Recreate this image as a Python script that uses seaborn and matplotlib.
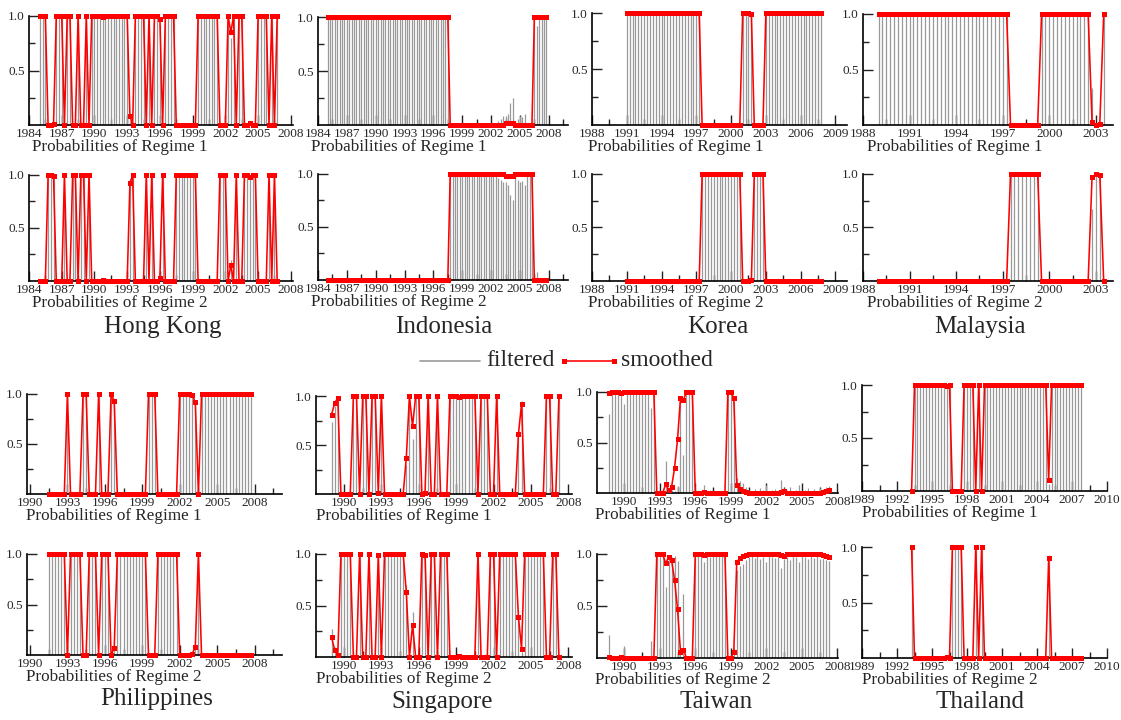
import numpy as np
import pandas as pd
import matplotlib
matplotlib.use("Agg")
import matplotlib.pyplot as plt
import seaborn as sns
from matplotlib.lines import Line2D
from matplotlib.ticker import FixedLocator

sns.set_theme(style="white")
plt.rcParams['font.family'] = ['Liberation Serif', 'DejaVu Serif']

# ---------------- data: probabilities of regime 1 (quarterly) ----------------
# regime 2 probability = 1 - regime 1 probability
hk_start = 1985.0
hk_smooth = [1, 1, 1, 0, 0, 0.01, 1, 1, 1, 0, 1, 1, 0, 0, 1, 0, 0, 1, 0,
             1, 1, 1, 1, 0.99, 1, 1, 1, 1, 1, 1, 1, 1, 1,
             0.08, 0, 1, 1, 1, 1, 0, 1, 0, 1, 1, 0.97, 0, 1, 1, 1, 1,
             0, 0, 0, 0, 0, 0, 0, 0, 1, 1, 1, 1, 1, 1, 1, 1,
             0, 0, 0, 1, 0.85, 1, 0, 1, 1, 0, 0, 0.02, 0, 0,
             1, 1, 1, 1, 0, 1, 0, 1]
hk_filt = [1, 1, 1, 0, 0, 0.03, 1, 1, 1, 0, 1, 1, 0, 0, 1, 0, 0, 1, 0,
           1, 1, 1, 1, 0.98, 1, 1, 1, 1, 1, 1, 1, 1, 1,
           0.04, 0, 1, 1, 1, 1, 0, 1, 0, 1, 1, 0.92, 0, 1, 1, 1, 1,
           0, 0, 0, 0, 0, 0, 0, 0, 1, 1, 1, 1, 1, 1, 1, 1,
           0, 0, 0, 1, 0.8, 1, 0, 1, 1, 0, 0, 0.03, 0, 0,
           1, 1, 1, 1, 0, 1, 0, 1]

ido_start = 1985.0
ido_smooth = [1, 1, 1, 1, 1, 1, 1, 1, 1, 1, 1, 1, 1, 1, 1, 1, 1, 1, 1, 1,
              1, 1, 1, 1, 1, 1, 1, 1, 1, 1, 1, 1, 1, 1, 1, 1, 1, 1, 1, 1,
              1, 1, 1, 1, 1, 1, 1, 1, 1, 1, 1,
              0, 0, 0, 0, 0, 0, 0, 0, 0, 0, 0, 0, 0, 0, 0, 0, 0, 0, 0, 0,
              0, 0, 0, 0.015, 0.02, 0.02, 0.015, 0, 0, 0, 0, 0, 0, 0, 0,
              1, 1, 1, 1, 1, 1]
ido_filt = [1, 1, 1, 1, 1, 1, 1, 1, 1, 1, 1, 1, 1, 1, 1, 1, 1, 1, 1, 1,
            1, 1, 1, 1, 1, 1, 1, 1, 1, 1, 1, 1, 1, 1, 1, 1, 1, 1, 1, 1,
            1, 1, 1, 1, 1, 1, 1, 1, 1, 1, 1,
            0, 0, 0, 0, 0, 0, 0, 0, 0, 0, 0, 0, 0, 0, 0, 0, 0, 0, 0, 0,
            0.04, 0.06, 0.08, 0.08, 0.1, 0.2, 0.25, 0.03, 0.06, 0.08, 0.07, 0.1, 0.02, 0, 0,
            1, 0.92, 1, 1, 1, 1]

kor_start = 1991.0
kor_smooth = [1, 1, 1, 1, 1, 1, 1, 1, 1, 1, 1, 1, 1, 1, 1, 1, 1, 1, 1, 1, 1, 1, 1, 1, 1, 1,
              0, 0, 0, 0, 0, 0, 0, 0, 0, 0, 0, 0, 0, 0,
              1, 1, 1, 0.99, 0, 0, 0, 0,
              1, 1, 1, 1, 1, 1, 1, 1, 1, 1, 1, 1, 1, 1, 1, 1, 1, 1, 1, 1]
kor_filt = [1, 1, 1, 1, 1, 1, 1, 1, 1, 1, 1, 1, 1, 1, 1, 1, 1, 1, 1, 1, 1, 1, 1, 1, 1, 1,
            0, 0, 0, 0, 0, 0, 0, 0, 0, 0, 0, 0, 0, 0,
            1, 1, 1, 0.98, 0, 0, 0, 0,
            1, 1, 1, 1, 1, 1, 1, 1, 1, 1, 1, 1, 1, 1, 1, 1, 1, 1, 1, 1]

mal_start = 1989.0
mal_smooth = [1, 1, 1, 1, 1, 1, 1, 1, 1, 1, 1, 1, 1, 1, 1, 1, 1,
              1, 1, 1, 1, 1, 1, 1, 1, 1, 1, 1, 1, 1, 1, 1, 1, 1,
              0, 0, 0, 0, 0, 0, 0, 0,
              1, 1, 1, 1, 1, 1, 1, 1, 1, 1, 1, 1, 1,
              0.03, 0, 0.01, 1]
mal_filt = [1, 1, 1, 1, 1, 1, 1, 1, 1, 1, 1, 1, 1, 1, 1, 1, 1,
            1, 1, 1, 1, 1, 1, 1, 1, 1, 1, 1, 1, 1, 1, 1, 1, 1,
            0, 0, 0, 0, 0, 0, 0, 0,
            1, 1, 1, 1, 1, 1, 1, 1, 1, 1, 1, 1, 1,
            0.33, 0, 0.02, 1]

phi_start = 1991.5
phi_smooth = [0, 0, 0, 0, 0, 0, 1, 0, 0, 0, 0, 1, 1, 0, 0, 0, 1, 0, 0, 0, 1, 0.93,
              0, 0, 0, 0, 0, 0, 0, 0, 0, 0, 1, 1, 1, 0, 0, 0, 0, 0, 0, 0,
              1, 1, 1, 1, 0.99, 0.92, 0,
              1, 1, 1, 1, 1, 1, 1, 1, 1, 1, 1, 1, 1, 1, 1, 1, 1]
phi_filt = [0, 0, 0, 0, 0, 0, 1, 0, 0, 0, 0, 1, 1, 0, 0, 0, 1, 0, 0, 0, 1, 0.95,
            0, 0, 0, 0, 0, 0, 0, 0, 0, 0, 1, 1, 1, 0, 0, 0, 0, 0, 0, 0,
            1, 1, 1, 1, 0.98, 0.9, 0,
            1, 1, 1, 1, 1, 1, 1, 1, 1, 1, 1, 1, 1, 1, 1, 1, 1]

sgp_start = 1989.0
sgp_smooth = [0.81, 0.93, 0.98, 0, 0, 0, 0, 1, 1, 0, 1, 1, 0, 1, 1, 0.01, 1,
              0, 0, 0, 0, 0, 0, 0, 0.37, 1, 0.69, 1, 1, 0, 0.01, 1, 0, 0, 1, 0, 0, 0,
              1, 1, 1, 0.99, 1, 1, 1, 1, 1, 0, 1, 1, 1, 0, 0, 1,
              0, 0, 0, 0, 0, 0, 0.61, 0.92, 0, 0, 0, 0, 0, 0, 0, 1, 1, 0, 0, 1]
sgp_filt = [0.73, 0.9, 0.97, 0, 0, 0, 0, 1, 1, 0, 1, 1, 0, 1, 1, 0.02, 1,
            0, 0, 0, 0, 0, 0, 0, 0.3, 1, 0.56, 1, 1, 0, 0.02, 1, 0, 0, 1, 0, 0, 0,
            1, 1, 1, 0.98, 1, 1, 1, 1, 1, 0, 1, 1, 1, 0, 0, 1,
            0, 0, 0, 0, 0, 0, 0.6, 0.95, 0, 0, 0, 0, 0, 0, 0, 1, 1, 0, 0, 1]

twn_start = 1988.75
twn_smooth = [0.99, 1, 1, 1, 0.99, 1, 1, 1, 1, 1, 1, 1, 1, 1, 1, 1,
              0, 0, 0, 0.09, 0.03, 0.06, 0.25, 0.53, 0.94, 0.92, 1, 1, 1,
              0, 0, 0, 0.01, 0, 0, 0, 0, 0, 0, 0,
              1, 1, 0.94, 0.08, 0.04, 0.02, 0.01,
              0, 0, 0, 0, 0, 0, 0, 0, 0, 0, 0, 0.01, 0.015, 0, 0, 0, 0, 0, 0, 0, 0, 0, 0, 0,
              0, 0.01, 0.02, 0.03]
twn_filt = [0.78, 1, 1, 1, 1, 0.88, 1, 1, 1, 1, 1, 1, 1, 1, 0.84, 1,
            0, 0, 0.02, 0.32, 0.02, 0.03, 0.02, 0.07, 0.95, 0.38, 1, 1, 1,
            0, 0, 0.02, 0.08, 0, 0.03, 0, 0, 0.02, 0, 0,
            1, 1, 0.9, 0.15, 0.12, 0.1, 0.06,
            0.03, 0.02, 0.04, 0.02, 0.05, 0.03, 0.08, 0.02, 0.03, 0.04, 0.02, 0.13, 0.05, 0.03,
            0.06, 0.02, 0.03, 0.08, 0.02, 0.03, 0.05, 0.02, 0.04, 0.02, 0.05, 0.04, 0.06, 0.07]

tha_start = 1993.25
tha_smooth = [0, 1, 1, 1, 1, 1, 1, 1, 1, 1, 1, 1, 0.99, 1, 0, 0, 0, 0, 1, 1, 1, 1, 0, 1, 0,
              1, 1, 1, 1, 1, 1, 1, 1, 1, 1, 1, 1, 1, 1, 1, 1, 1, 1, 1, 1, 1, 1,
              0.1, 1, 1, 1, 1, 1, 1, 1, 1, 1, 1, 1]
tha_filt = [0, 1, 1, 1, 1, 1, 1, 1, 1, 1, 1, 1, 0.99, 1, 0, 0, 0, 0, 1, 1, 1, 1, 0, 1, 0,
            1, 1, 1, 1, 1, 1, 1, 1, 1, 1, 1, 1, 1, 1, 1, 1, 1, 1, 1, 1, 1, 1,
            0.07, 1, 1, 1, 1, 1, 1, 1, 1, 1, 1, 1]

countries = ["Hong Kong", "Indonesia", "Korea", "Malaysia",
             "Philippines", "Singapore", "Taiwan", "Thailand"]
series = {
    "Hong Kong": (hk_start, hk_smooth, hk_filt),
    "Indonesia": (ido_start, ido_smooth, ido_filt),
    "Korea": (kor_start, kor_smooth, kor_filt),
    "Malaysia": (mal_start, mal_smooth, mal_filt),
    "Philippines": (phi_start, phi_smooth, phi_filt),
    "Singapore": (sgp_start, sgp_smooth, sgp_filt),
    "Taiwan": (twn_start, twn_smooth, twn_filt),
    "Thailand": (tha_start, tha_smooth, tha_filt),
}
xticks = {
    "Hong Kong": [1984, 1987, 1990, 1993, 1996, 1999, 2002, 2005, 2008],
    "Indonesia": [1984, 1987, 1990, 1993, 1996, 1999, 2002, 2005, 2008],
    "Korea": [1988, 1991, 1994, 1997, 2000, 2003, 2006, 2009],
    "Malaysia": [1988, 1991, 1994, 1997, 2000, 2003],
    "Philippines": [1990, 1993, 1996, 1999, 2002, 2005, 2008],
    "Singapore": [1990, 1993, 1996, 1999, 2002, 2005, 2008],
    "Taiwan": [1990, 1993, 1996, 1999, 2002, 2005, 2008],
    "Thailand": [1989, 1992, 1995, 1998, 2001, 2004, 2007, 2010],
}

# ---------------- layout (pixels) ----------------
W, H = 1121, 720
geo = {
    "Hong Kong":   dict(x=(29, 293), r1=(16, 125), r2=(175, 281), xlim=(1984, 2008.2), name=(163, 327), lab=32),
    "Indonesia":   dict(x=(318, 568), r1=(17, 125), r2=(174, 280), xlim=(1984, 2010), name=(444, 327), lab=311),
    "Korea":       dict(x=(592, 847), r1=(13, 125), r2=(174, 281), xlim=(1988, 2010), name=(718, 327), lab=588),
    "Malaysia":    dict(x=(863, 1113), r1=(14, 125), r2=(174, 281), xlim=(1988, 2004.1), name=(980, 327), lab=867),
    "Philippines": dict(x=(27, 282), r1=(394, 494), r2=(554, 655), xlim=(1989.76, 2010.2), name=(157, 699), lab=26),
    "Singapore":   dict(x=(316, 572), r1=(396, 494), r2=(554, 657), xlim=(1987.75, 2008.3), name=(442, 702), lab=316),
    "Taiwan":      dict(x=(597, 838), r1=(392, 493), r2=(554, 658), xlim=(1987.7, 2008.05), name=(716, 702), lab=595),
    "Thailand":    dict(x=(862, 1107), r1=(385, 491), r2=(547, 658), xlim=(1989, 2010), name=(980, 702), lab=862),
}

RED = "#ff0000"
GRAY = "#999999"

fig = plt.figure(figsize=(W / 100, H / 100), dpi=100)


def draw_panel(name, regime):
    g = geo[name]
    x0, x1 = g["x"]
    top, bot = g["r1"] if regime == 1 else g["r2"]
    ax = fig.add_axes([x0 / W, 1 - bot / H, (x1 - x0) / W, (bot - top) / H])
    start, sm, fi = series[name]
    t = start + 0.25 * np.arange(len(sm))
    sm = np.asarray(sm, dtype=float)
    fi = np.asarray(fi, dtype=float)
    if regime == 2:
        sm = 1 - sm
        fi = 1 - fi
    ax.vlines(t, 0, fi, color=GRAY, lw=0.9, zorder=2)
    df = pd.DataFrame({"t": t, "p": sm})
    sns.lineplot(data=df, x="t", y="p", ax=ax, color=RED, lw=1.15, marker="s",
                 markersize=3.6, markeredgewidth=0, estimator=None, sort=False,
                 clip_on=False, zorder=3)
    ax.set_xlim(*g["xlim"])
    ax.set_ylim(0, 1)
    ax.set_xlabel("")
    ax.set_ylabel("")
    for s in ["top", "right"]:
        ax.spines[s].set_visible(False)
    for s in ["left", "bottom"]:
        ax.spines[s].set_color("black")
        ax.spines[s].set_linewidth(1.2)
    ax.spines["left"].set_bounds(0, 1)
    ax.set_facecolor("none")
    ax.xaxis.set_major_locator(FixedLocator(xticks[name]))
    ax.set_xticklabels([str(v) for v in xticks[name]], fontsize=9.5)
    mids = [v + 1.5 for v in xticks[name]]
    ax.xaxis.set_minor_locator(FixedLocator(mids))
    ax.yaxis.set_major_locator(FixedLocator([0.5, 1.0]))
    ax.set_yticklabels(["0.5", "1.0"], fontsize=9.5)
    ax.yaxis.set_minor_locator(FixedLocator([0.25, 0.75]))
    ax.tick_params(axis="x", which="major", direction="in", length=7, width=1,
                   color="#222222", pad=2, bottom=True)
    ax.tick_params(axis="x", which="minor", direction="in", length=4, width=1,
                   color="#222222", bottom=True)
    ax.tick_params(axis="y", which="major", direction="in", length=7, width=1,
                   color="#222222", pad=3, left=True)
    ax.tick_params(axis="y", which="minor", direction="in", length=4, width=1,
                   color="#222222", left=True)
    ax.grid(False)
    if ax.get_legend() is not None:
        ax.get_legend().remove()
    fig.text(g["lab"] / W, 1 - (bot + 22) / H, f"Probabilities of Regime {regime}",
             fontsize=12.3, ha="left", va="center")


for c in countries:
    draw_panel(c, 1)
    draw_panel(c, 2)
    nx, ny = geo[c]["name"]
    fig.text(nx / W, 1 - ny / H, c, fontsize=18, ha="center", va="center")

# legend
ly = 1 - 361 / H
fig.add_artist(Line2D([420 / W, 480 / W], [ly, ly], color=GRAY, lw=1.2))
fig.text(486 / W, ly, "filtered", fontsize=17, ha="left", va="center")
fig.add_artist(Line2D([564 / W, 614 / W], [ly, ly], color=RED, lw=1.15,
                      marker="s", markersize=3.6, markevery=[0, 1], markeredgewidth=0))
fig.text(621 / W, ly, "smoothed", fontsize=17, ha="left", va="center")

fig.savefig("out.png", dpi=100)
